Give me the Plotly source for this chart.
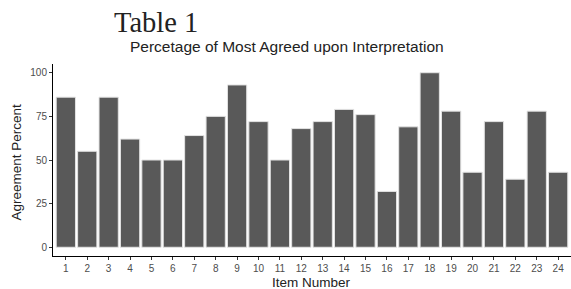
import plotly.graph_objects as go

items = list(range(1, 25))
agreement = [86, 55, 86, 62, 50, 50, 64, 75, 93, 72, 50, 68,
             72, 79, 76, 32, 69, 100, 78, 43, 72, 39, 78, 43]
y_ticks = [0, 25, 50, 75, 100]

fig = go.Figure(go.Bar(
    x=items, y=agreement, width=0.9,
    marker=dict(color="#595959", line=dict(color="#e3e3e3", width=1)),
    hoverinfo="skip",
))

L, R, T, B = 53, 0, 64, 33
W, H = 571, 289
pw, ph = W - L - R, H - T - B

def px_x(px):
    return (px - L) / pw

def px_y(py):
    return 1 + (T - py) / ph

fig.update_layout(
    width=W, height=H,
    margin=dict(l=L, r=R, t=T, b=B),
    plot_bgcolor="white", paper_bgcolor="white",
    showlegend=False,
    font=dict(family="Liberation Sans, Arial, sans-serif", color="#4d4d4d"),
    xaxis=dict(
        range=[0.4, 24.6], tickvals=items, ticktext=[str(i) for i in items],
        showline=True, linecolor="black", linewidth=1,
        ticks="outside", ticklen=3, tickcolor="#333333", tickwidth=1,
        showgrid=False, zeroline=False, automargin=False,
        tickfont=dict(size=10, color="#4d4d4d"),
    ),
    yaxis=dict(
        range=[-5, 105], tickvals=y_ticks,
        showline=True, linecolor="black", linewidth=1,
        ticks="outside", ticklen=3, tickcolor="#333333", tickwidth=1,
        showgrid=False, zeroline=False, automargin=False,
        tickfont=dict(size=10, color="#4d4d4d"),
    ),
    annotations=[
        dict(text="Table 1", xref="paper", yref="paper",
             x=px_x(156), y=px_y(23), xanchor="center", yanchor="middle",
             showarrow=False,
             font=dict(family="Liberation Serif, Times New Roman, serif", size=28.5, color="#222222")),
        dict(text="Percetage of Most Agreed upon Interpretation", xref="paper", yref="paper",
             x=px_x(128), y=px_y(47), xanchor="left", yanchor="middle",
             showarrow=False,
             font=dict(family="Liberation Sans, Arial, sans-serif", size=15.5, color="#222222")),
        dict(text="Item Number", xref="paper", yref="paper",
             x=px_x(311), y=px_y(282), xanchor="center", yanchor="middle",
             showarrow=False,
             font=dict(family="Liberation Sans, Arial, sans-serif", size=13.5, color="#222222")),
        dict(text="Agreement Percent", xref="paper", yref="paper",
             x=px_x(15.5), y=px_y(162), xanchor="center", yanchor="middle",
             textangle=-90, showarrow=False,
             font=dict(family="Liberation Sans, Arial, sans-serif", size=13.5, color="#222222")),
    ],
)

fig.write_html(
    "out.html",
    config={"displayModeBar": False},
    post_script="document.body.style.margin='0px';document.body.style.overflow='hidden';",
)
